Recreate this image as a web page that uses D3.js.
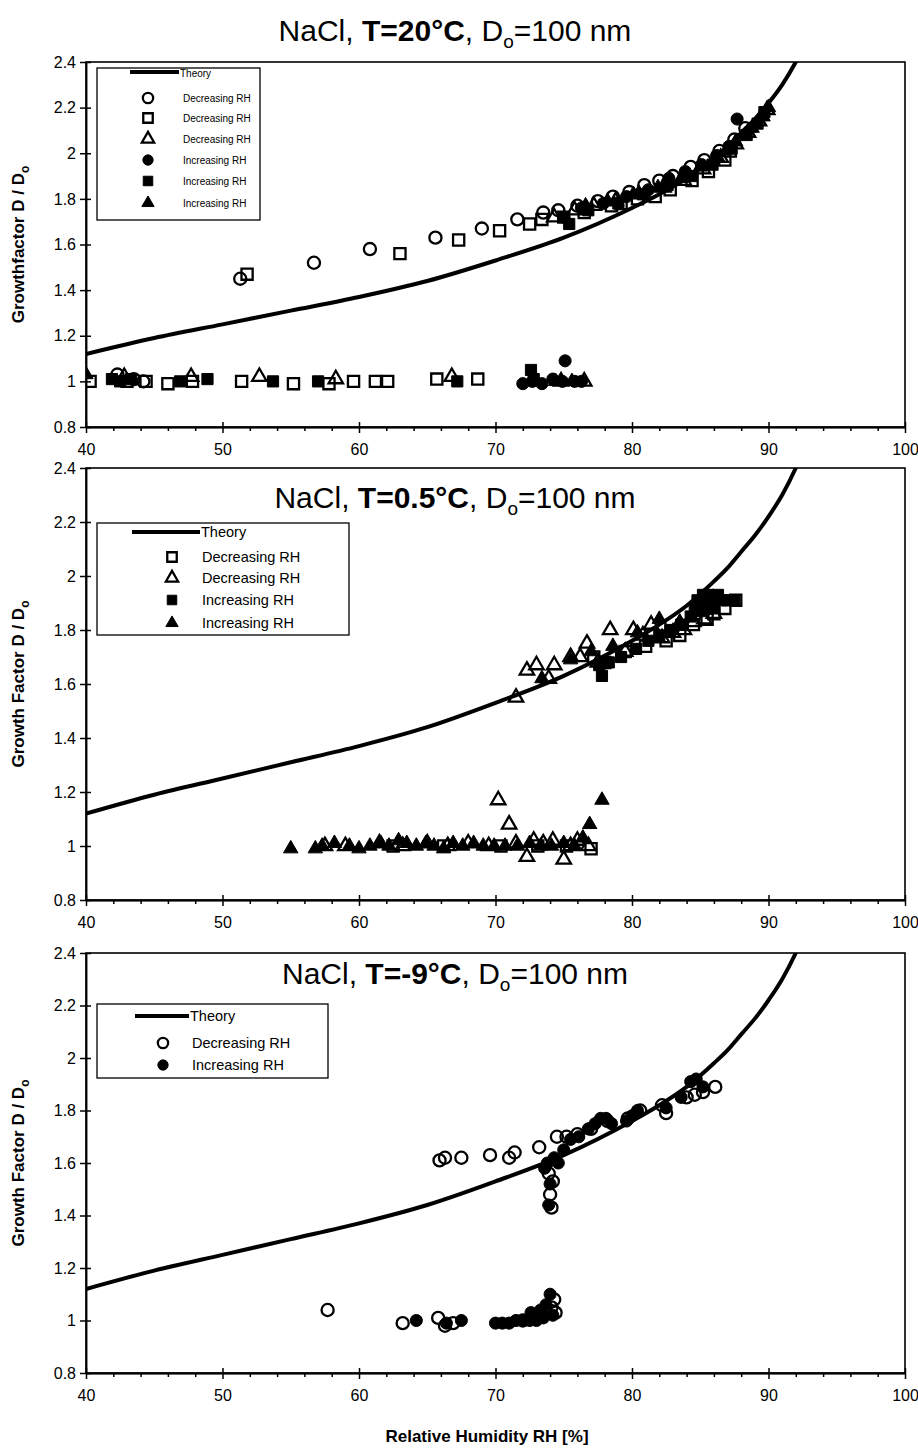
<!DOCTYPE html>
<html>
<head>
<meta charset="utf-8">
<script src="https://cdn.jsdelivr.net/npm/d3@7"></script>
<style>
  body { margin: 0; background: #fff; }
  svg { font-family: "Liberation Sans", Arial, sans-serif; }
  .tick text { font-family: "Liberation Sans", Arial, sans-serif; font-size: 16px; fill: #000; }
  .domain, .tick line { stroke: #000; stroke-width: 1.5px; }
</style>
</head>
<body>
<script>
// ---- data (RH %, growth factor) ----
var theoryRH = [40, 45, 50, 55, 60, 65, 70, 75, 80, 82, 84, 86, 87, 88, 89, 90, 91, 92, 92.6];
var theoryGF = [1.12, 1.19, 1.25, 1.31, 1.37, 1.44, 1.53, 1.63, 1.76, 1.82, 1.89, 1.98, 2.03, 2.09, 2.15, 2.22, 2.30, 2.40, 2.47];

var xTicks = [40, 50, 60, 70, 80, 90, 100];
var yTicks = [0.8, 1, 1.2, 1.4, 1.6, 1.8, 2, 2.2, 2.4];

// panel 1: T = 20 C
var p1DecCircle = [[51.3,1.45],[56.7,1.52],[60.8,1.58],[65.6,1.63],[69.0,1.67],[71.6,1.71],[73.5,1.74],[74.6,1.75],[76.0,1.77],[77.5,1.79],[78.6,1.81],[79.8,1.83],[80.9,1.86],[82.0,1.88],[83.0,1.90],[84.3,1.94],[85.3,1.97],[86.4,2.01],[87.5,2.06],[88.3,2.11],[42.3,1.03],[43.5,1.01],[44.2,1.00]];
var p1DecSquare = [[51.8,1.47],[63.0,1.56],[67.3,1.62],[70.3,1.66],[72.5,1.69],[73.4,1.71],[75.0,1.72],[76.5,1.74],[78.5,1.77],[79.2,1.78],[80.4,1.80],[81.7,1.81],[82.8,1.84],[84.4,1.88],[85.6,1.92],[86.8,1.97],[87.2,2.01],[40.3,1.00],[43.0,1.00],[44.4,1.00],[46.0,0.99],[47.8,1.00],[51.4,1.00],[55.2,0.99],[57.8,0.99],[59.6,1.00],[61.2,1.00],[62.1,1.00],[65.7,1.01],[68.7,1.01]];
var p1DecTri = [[74.3,1.72],[75.8,1.75],[77.2,1.77],[78.8,1.79],[80.5,1.82],[82.3,1.85],[83.8,1.88],[85.2,1.93],[86.5,1.98],[87.6,2.04],[88.5,2.09],[89.3,2.14],[89.9,2.19],[42.8,1.02],[47.7,1.02],[52.7,1.02],[58.3,1.01],[66.8,1.02],[74.8,1.00],[76.5,1.00]];
var p1IncCircle = [[75.0,1.72],[76.3,1.76],[77.9,1.78],[79.6,1.81],[81.2,1.84],[82.7,1.89],[83.9,1.92],[85.1,1.95],[86.2,1.99],[87.1,2.03],[87.7,2.15],[72.0,0.99],[72.7,1.00],[73.4,0.99],[74.2,1.01],[74.9,1.00],[75.1,1.09],[75.8,1.00],[76.3,1.00]];
var p1IncSquare = [[75.4,1.69],[76.8,1.75],[79.0,1.78],[80.8,1.82],[82.6,1.86],[84.4,1.90],[85.9,1.95],[87.3,2.02],[88.4,2.08],[89.2,2.13],[89.7,2.18],[41.9,1.01],[42.5,1.00],[43.3,1.01],[46.9,1.00],[48.9,1.01],[53.7,1.00],[57.0,1.00],[67.2,1.00],[72.6,1.05],[72.8,1.01]];
var p1IncTri = [[76.6,1.77],[78.2,1.79],[80.1,1.82],[81.9,1.85],[83.6,1.89],[85.0,1.94],[86.3,1.98],[87.6,2.05],[88.8,2.11],[89.6,2.16],[90.0,2.20],[40.0,1.03],[74.4,1.00],[75.6,1.00]];

// panel 2: T = 0.5 C
var p2DecSquare = [[77.2,1.70],[78.0,1.68],[79.5,1.72],[81.0,1.74],[82.5,1.76],[83.5,1.78],[84.5,1.82],[85.5,1.84],[86.0,1.86],[86.8,1.88],[87.6,1.91],[77.0,0.99],[75.2,1.00],[73.1,1.00],[70.4,1.00],[66.2,1.00],[62.5,1.00]];
var p2DecTri = [[71.5,1.55],[72.3,1.65],[73.0,1.67],[73.9,1.62],[74.3,1.67],[75.5,1.70],[76.2,1.70],[76.7,1.75],[77.5,1.68],[78.4,1.80],[79.5,1.72],[80.1,1.80],[80.8,1.78],[81.4,1.82],[82.2,1.77],[83.0,1.79],[83.8,1.80],[84.5,1.83],[85.3,1.84],[86.0,1.86],[57.5,1.00],[59.0,1.00],[61.5,1.01],[63.2,1.00],[65.0,1.01],[66.5,1.00],[68.0,1.01],[69.5,1.00],[70.2,1.17],[71.0,1.08],[71.5,1.01],[72.3,0.96],[72.8,1.02],[73.5,1.01],[74.2,1.02],[75.0,0.95],[75.5,1.00],[76.0,1.02],[76.8,1.00]];
var p2IncSquare = [[77.8,1.63],[77.6,1.67],[78.3,1.68],[79.2,1.70],[80.3,1.73],[81.2,1.76],[82.0,1.78],[82.8,1.80],[83.6,1.82],[84.3,1.85],[84.6,1.88],[84.8,1.91],[85.1,1.87],[85.2,1.93],[85.5,1.90],[85.6,1.93],[85.9,1.88],[86.1,1.91],[86.3,1.93],[86.6,1.91],[87.0,1.91],[87.5,1.91]];
var p2IncTri = [[73.4,1.62],[75.5,1.69],[77.0,1.72],[78.6,1.74],[80.4,1.79],[82.0,1.84],[83.5,1.83],[55.0,0.99],[56.8,0.99],[57.3,1.00],[58.2,1.01],[59.3,1.00],[60.0,0.99],[60.8,1.00],[61.6,1.01],[62.2,1.00],[62.9,1.02],[63.5,1.01],[64.2,1.00],[64.9,1.01],[65.5,1.00],[66.2,0.99],[66.9,1.01],[67.6,1.00],[68.4,1.01],[69.1,1.00],[69.9,1.00],[70.7,1.00],[71.6,1.00],[72.5,1.01],[73.3,1.00],[74.1,1.00],[75.0,1.01],[75.8,1.00],[76.4,1.03],[76.9,1.08],[77.8,1.17]];

// panel 3: T = -9 C
var p3DecCircle = [[57.7,1.04],[63.2,0.99],[65.8,1.01],[66.3,0.98],[66.9,0.99],[72.0,1.00],[65.9,1.61],[66.3,1.62],[67.5,1.62],[69.6,1.63],[71.0,1.62],[71.4,1.64],[73.2,1.66],[74.5,1.70],[75.2,1.70],[76.0,1.71],[77.0,1.73],[78.2,1.76],[79.7,1.77],[80.6,1.80],[82.2,1.82],[82.5,1.79],[84.0,1.85],[84.6,1.86],[85.2,1.87],[86.1,1.89],[74.0,1.48],[74.2,1.53],[73.9,1.56],[74.1,1.43],[74.3,1.08],[74.1,1.05],[74.4,1.03]];
var p3IncCircle = [[64.2,1.00],[66.4,0.99],[67.5,1.00],[70.0,0.99],[70.5,0.99],[71.0,0.99],[71.5,1.00],[72.0,1.00],[72.5,1.00],[73.0,1.00],[73.5,1.01],[72.6,1.03],[73.3,1.04],[73.7,1.06],[74.0,1.10],[74.2,1.02],[73.6,1.58],[73.8,1.60],[73.9,1.44],[74.0,1.52],[74.3,1.62],[74.6,1.60],[75.0,1.65],[75.5,1.69],[76.1,1.70],[76.8,1.73],[77.3,1.75],[77.7,1.77],[78.1,1.77],[78.5,1.75],[79.6,1.76],[80.0,1.78],[80.4,1.80],[82.5,1.81],[83.6,1.85],[84.3,1.91],[84.7,1.92],[85.2,1.89]];

var legendDec = "Decreasing RH";
var legendInc = "Increasing RH";

// ---- layout ----
var W = 918, H = 1448;
var svg = d3.select("body").append("svg")
    .attr("width", W)
    .attr("height", H);

var x = d3.scaleLinear().domain([40, 100]).range([86, 905]);
var theory = theoryRH.map(function(r, i) { return [r, theoryGF[i]]; });

var shapes = {
    circle:   { type: d3.symbolCircle,   size: 115 },
    square:   { type: d3.symbolSquare,   size: 125 },
    triangle: { type: d3.symbolTriangle, size: 90 }
};

var panels = [
    {
        top: 62, bottom: 427, title: "T=20°C", titleY: 41,
        yTitle: "Growthfactor D / D",
        legend: { x: 97, y: 68, w: 163, h: 152, lineX: [130, 179], markX: 148, textX: 183,
                  theoryY: 76, rowY: [98, 118, 139, 160, 181, 203], font: 10, mark: 0.85 },
        series: [
            { data: p1DecCircle, shape: "circle", open: true, label: legendDec },
            { data: p1DecSquare, shape: "square", open: true, label: legendDec },
            { data: p1DecTri, shape: "triangle", open: true, label: legendDec },
            { data: p1IncCircle, shape: "circle", open: false, label: legendInc },
            { data: p1IncSquare, shape: "square", open: false, label: legendInc },
            { data: p1IncTri, shape: "triangle", open: false, label: legendInc }
        ]
    },
    {
        top: 468, bottom: 900, title: "T=0.5°C", titleY: 508,
        yTitle: "Growth Factor D / D",
        legend: { x: 97, y: 523, w: 252, h: 112, lineX: [132, 200], markX: 172, textX: 202,
                  theoryY: 536, rowY: [557, 578, 600, 623], font: 14.5, mark: 0.85 },
        series: [
            { data: p2DecSquare, shape: "square", open: true, label: legendDec },
            { data: p2DecTri, shape: "triangle", open: true, label: legendDec },
            { data: p2IncSquare, shape: "square", open: false, label: legendInc },
            { data: p2IncTri, shape: "triangle", open: false, label: legendInc }
        ]
    },
    {
        top: 953, bottom: 1373, title: "T=-9°C", titleY: 984,
        yTitle: "Growth Factor D / D",
        legend: { x: 97, y: 1004, w: 231, h: 74, lineX: [135, 189], markX: 163, textX: 192,
                  theoryY: 1020, rowY: [1043, 1065], font: 14.5, mark: 0.85 },
        series: [
            { data: p3DecCircle, shape: "circle", open: true, label: legendDec },
            { data: p3IncCircle, shape: "circle", open: false, label: legendInc }
        ]
    }
];

function fmtY(d) { return String(+d.toFixed(1)); }

function drawMarker(g, shape, open, px, py, k) {
    var s = shapes[shape];
    g.append("path")
        .attr("d", d3.symbol().type(s.type).size(s.size * (k || 1) * (k || 1))())
        .attr("transform", "translate(" + px + "," + py + ")")
        .attr("fill", open ? "none" : "#000")
        .attr("stroke", "#000")
        .attr("stroke-width", open ? 2.3 : 1);
}

panels.forEach(function(p, pi) {
    var y = d3.scaleLinear().domain([0.8, 2.4]).range([p.bottom, p.top]);
    var g = svg.append("g");

    // clip for the plot area
    var clipId = "clip" + pi;
    svg.append("clipPath").attr("id", clipId)
        .append("rect")
        .attr("x", x(40)).attr("y", p.top)
        .attr("width", x(100) - x(40)).attr("height", p.bottom - p.top);

    // frame
    g.append("rect")
        .attr("x", x(40)).attr("y", p.top)
        .attr("width", x(100) - x(40)).attr("height", p.bottom - p.top)
        .attr("fill", "none").attr("stroke", "#000").attr("stroke-width", 1.6);

    // x axis: major ticks crossing, minor ticks below
    g.append("g").attr("transform", "translate(0," + p.bottom + ")")
        .call(d3.axisBottom(x).tickValues(xTicks).tickSize(6).tickPadding(11).tickSizeOuter(0))
        .call(function(a) { a.selectAll("text").attr("dy", "0.71em"); });
    g.append("g").attr("transform", "translate(0," + p.bottom + ")")
        .call(d3.axisTop(x).tickValues(xTicks).tickSize(5).tickFormat("").tickSizeOuter(0));
    g.append("g").attr("transform", "translate(0," + p.bottom + ")")
        .call(d3.axisBottom(x).tickValues(d3.range(42, 100, 2).filter(function(v) { return v % 10 !== 0; }))
            .tickSize(4).tickFormat("").tickSizeOuter(0));

    // y axis: major ticks crossing
    g.append("g").attr("transform", "translate(" + x(40) + ",0)")
        .call(d3.axisLeft(y).tickValues(yTicks).tickFormat(fmtY).tickSize(6).tickPadding(4).tickSizeOuter(0));
    g.append("g").attr("transform", "translate(" + x(40) + ",0)")
        .call(d3.axisRight(y).tickValues(yTicks).tickFormat("").tickSize(5).tickSizeOuter(0));

    // y title
    var yt = g.append("text")
        .attr("transform", "translate(24," + ((p.top + p.bottom) / 2) + ") rotate(-90)")
        .attr("text-anchor", "middle")
        .attr("font-size", 17)
        .attr("font-weight", "bold")
        .text(p.yTitle);
    yt.append("tspan").attr("font-size", 12).attr("dy", 5).text("o");

    // panel title
    var t = g.append("text")
        .attr("x", 455).attr("y", p.titleY)
        .attr("text-anchor", "middle")
        .attr("font-size", 30);
    t.append("tspan").text("NaCl, ");
    t.append("tspan").attr("font-weight", "bold").text(p.title);
    t.append("tspan").text(", D");
    t.append("tspan").attr("font-size", 19).attr("dy", 7).text("o");
    t.append("tspan").attr("dy", -7).text("=100 nm");

    // theory curve
    var plot = g.append("g").attr("clip-path", "url(#" + clipId + ")");
    plot.append("path")
        .datum(theory)
        .attr("fill", "none")
        .attr("stroke", "#000")
        .attr("stroke-width", 4)
        .attr("d", d3.line().curve(d3.curveMonotoneX)
            .x(function(d) { return x(d[0]); })
            .y(function(d) { return y(d[1]); }));

    // markers
    p.series.forEach(function(s) {
        s.data.forEach(function(d) {
            drawMarker(plot, s.shape, s.open, x(d[0]), y(d[1]));
        });
    });

    // legend
    var L = p.legend;
    var lg = g.append("g");
    lg.append("rect")
        .attr("x", L.x).attr("y", L.y).attr("width", L.w).attr("height", L.h)
        .attr("fill", "#fff").attr("stroke", "#000").attr("stroke-width", 1.3);
    lg.append("line")
        .attr("x1", L.lineX[0]).attr("x2", L.lineX[1])
        .attr("y1", L.theoryY - 4).attr("y2", L.theoryY - 4)
        .attr("stroke", "#000").attr("stroke-width", 4);
    lg.append("text").attr("font-size", L.font)
        .attr("x", L.lineX[1] + 1).attr("y", L.theoryY + 1).text("Theory");
    p.series.forEach(function(s, i) {
        drawMarker(lg, s.shape, s.open, L.markX, L.rowY[i], L.mark);
        lg.append("text").attr("font-size", L.font)
            .attr("x", L.textX).attr("y", L.rowY[i] + L.font * 0.36).text(s.label);
    });
});

// bottom x-axis title
svg.append("text")
    .attr("x", 487).attr("y", 1442)
    .attr("text-anchor", "middle")
    .attr("font-size", 17)
    .attr("font-weight", "bold")
    .text("Relative Humidity RH [%]");
</script>
</body>
</html>
